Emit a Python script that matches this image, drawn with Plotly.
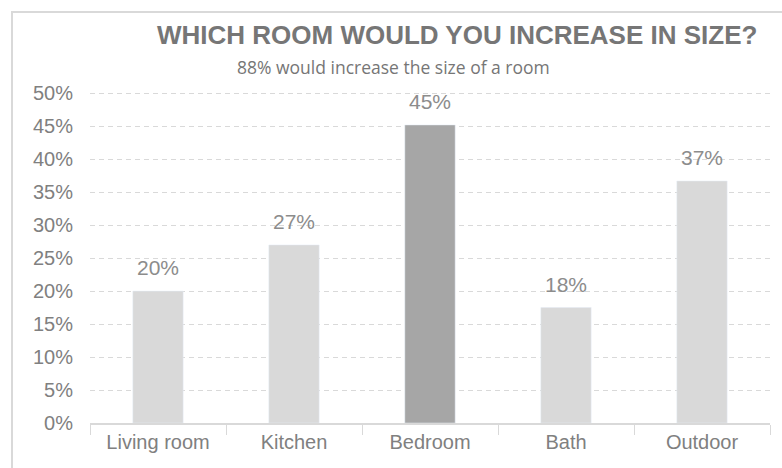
import plotly.graph_objects as go

categories = ["Living room", "Kitchen", "Bedroom", "Bath", "Outdoor"]
values = [0.20, 0.27, 0.452, 0.175, 0.367]
labels = ["20%", "27%", "45%", "18%", "37%"]
bar_colors = ["#d9d9d9", "#d9d9d9", "#a6a6a6", "#d9d9d9", "#d9d9d9"]
y_ticks = [i * 0.05 for i in range(11)]
y_tick_text = [f"{i*5}%" for i in range(11)]

L, R, T, B = 90, 12, 90, 45
W, H = 782, 468
pw, ph = W - L - R, H - T - B

def px(x):
    return (x - L) / pw

def py(y):
    return (H - B - y) / ph

FONT = "Liberation Sans, Arial"
fig = go.Figure(go.Bar(
    x=categories, y=values, marker_color=bar_colors, width=0.37,
    cliponaxis=False, hoverinfo="skip",
))

annotations = [
    dict(text=t, x=c, y=v, xref="x", yref="y", yanchor="bottom", yshift=10,
         showarrow=False, font=dict(family=FONT, size=21, color="#8c8c8c"))
    for c, v, t in zip(categories, values, labels)
]
annotations += [
    dict(text="<b>WHICH ROOM WOULD YOU INCREASE IN SIZE?</b>", xref="paper", yref="paper",
         x=px(457), y=py(35), xanchor="center", yanchor="middle", showarrow=False,
         font=dict(family=FONT, size=26, color="#767676")),
    dict(text="88% would increase the size of a room", xref="paper", yref="paper",
         x=px(393), y=py(67), xanchor="center", yanchor="middle", showarrow=False,
         font=dict(family="Open Sans", size=17.5, color="#767676")),
]

fig.update_layout(
    width=W, height=H, margin=dict(l=L, r=R, t=T, b=B),
    paper_bgcolor="white", plot_bgcolor="white", showlegend=False,
    font=dict(family=FONT, color="#808080"),
    xaxis=dict(showline=True, linecolor="#d9d9d9", linewidth=1.5,
               ticks="outside", tickson="boundaries", ticklen=10, tickcolor="#d9d9d9",
               tickfont=dict(size=20, color="#808080"), showgrid=False),
    yaxis=dict(range=[0, 0.505], tickvals=y_ticks, ticktext=y_tick_text,
               showgrid=True, gridcolor="#d9d9d9", griddash="5px,4px", gridwidth=1,
               zeroline=False, showline=False, ticklabelstandoff=16,
               tickfont=dict(size=20, color="#808080")),
    annotations=annotations,
    shapes=[dict(type="rect", xref="paper", yref="paper",
                 x0=px(12), y0=py(480), x1=px(800), y1=py(12),
                 line=dict(color="#d9d9d9", width=2), layer="below")],
)

fig.write_html("out.html")
